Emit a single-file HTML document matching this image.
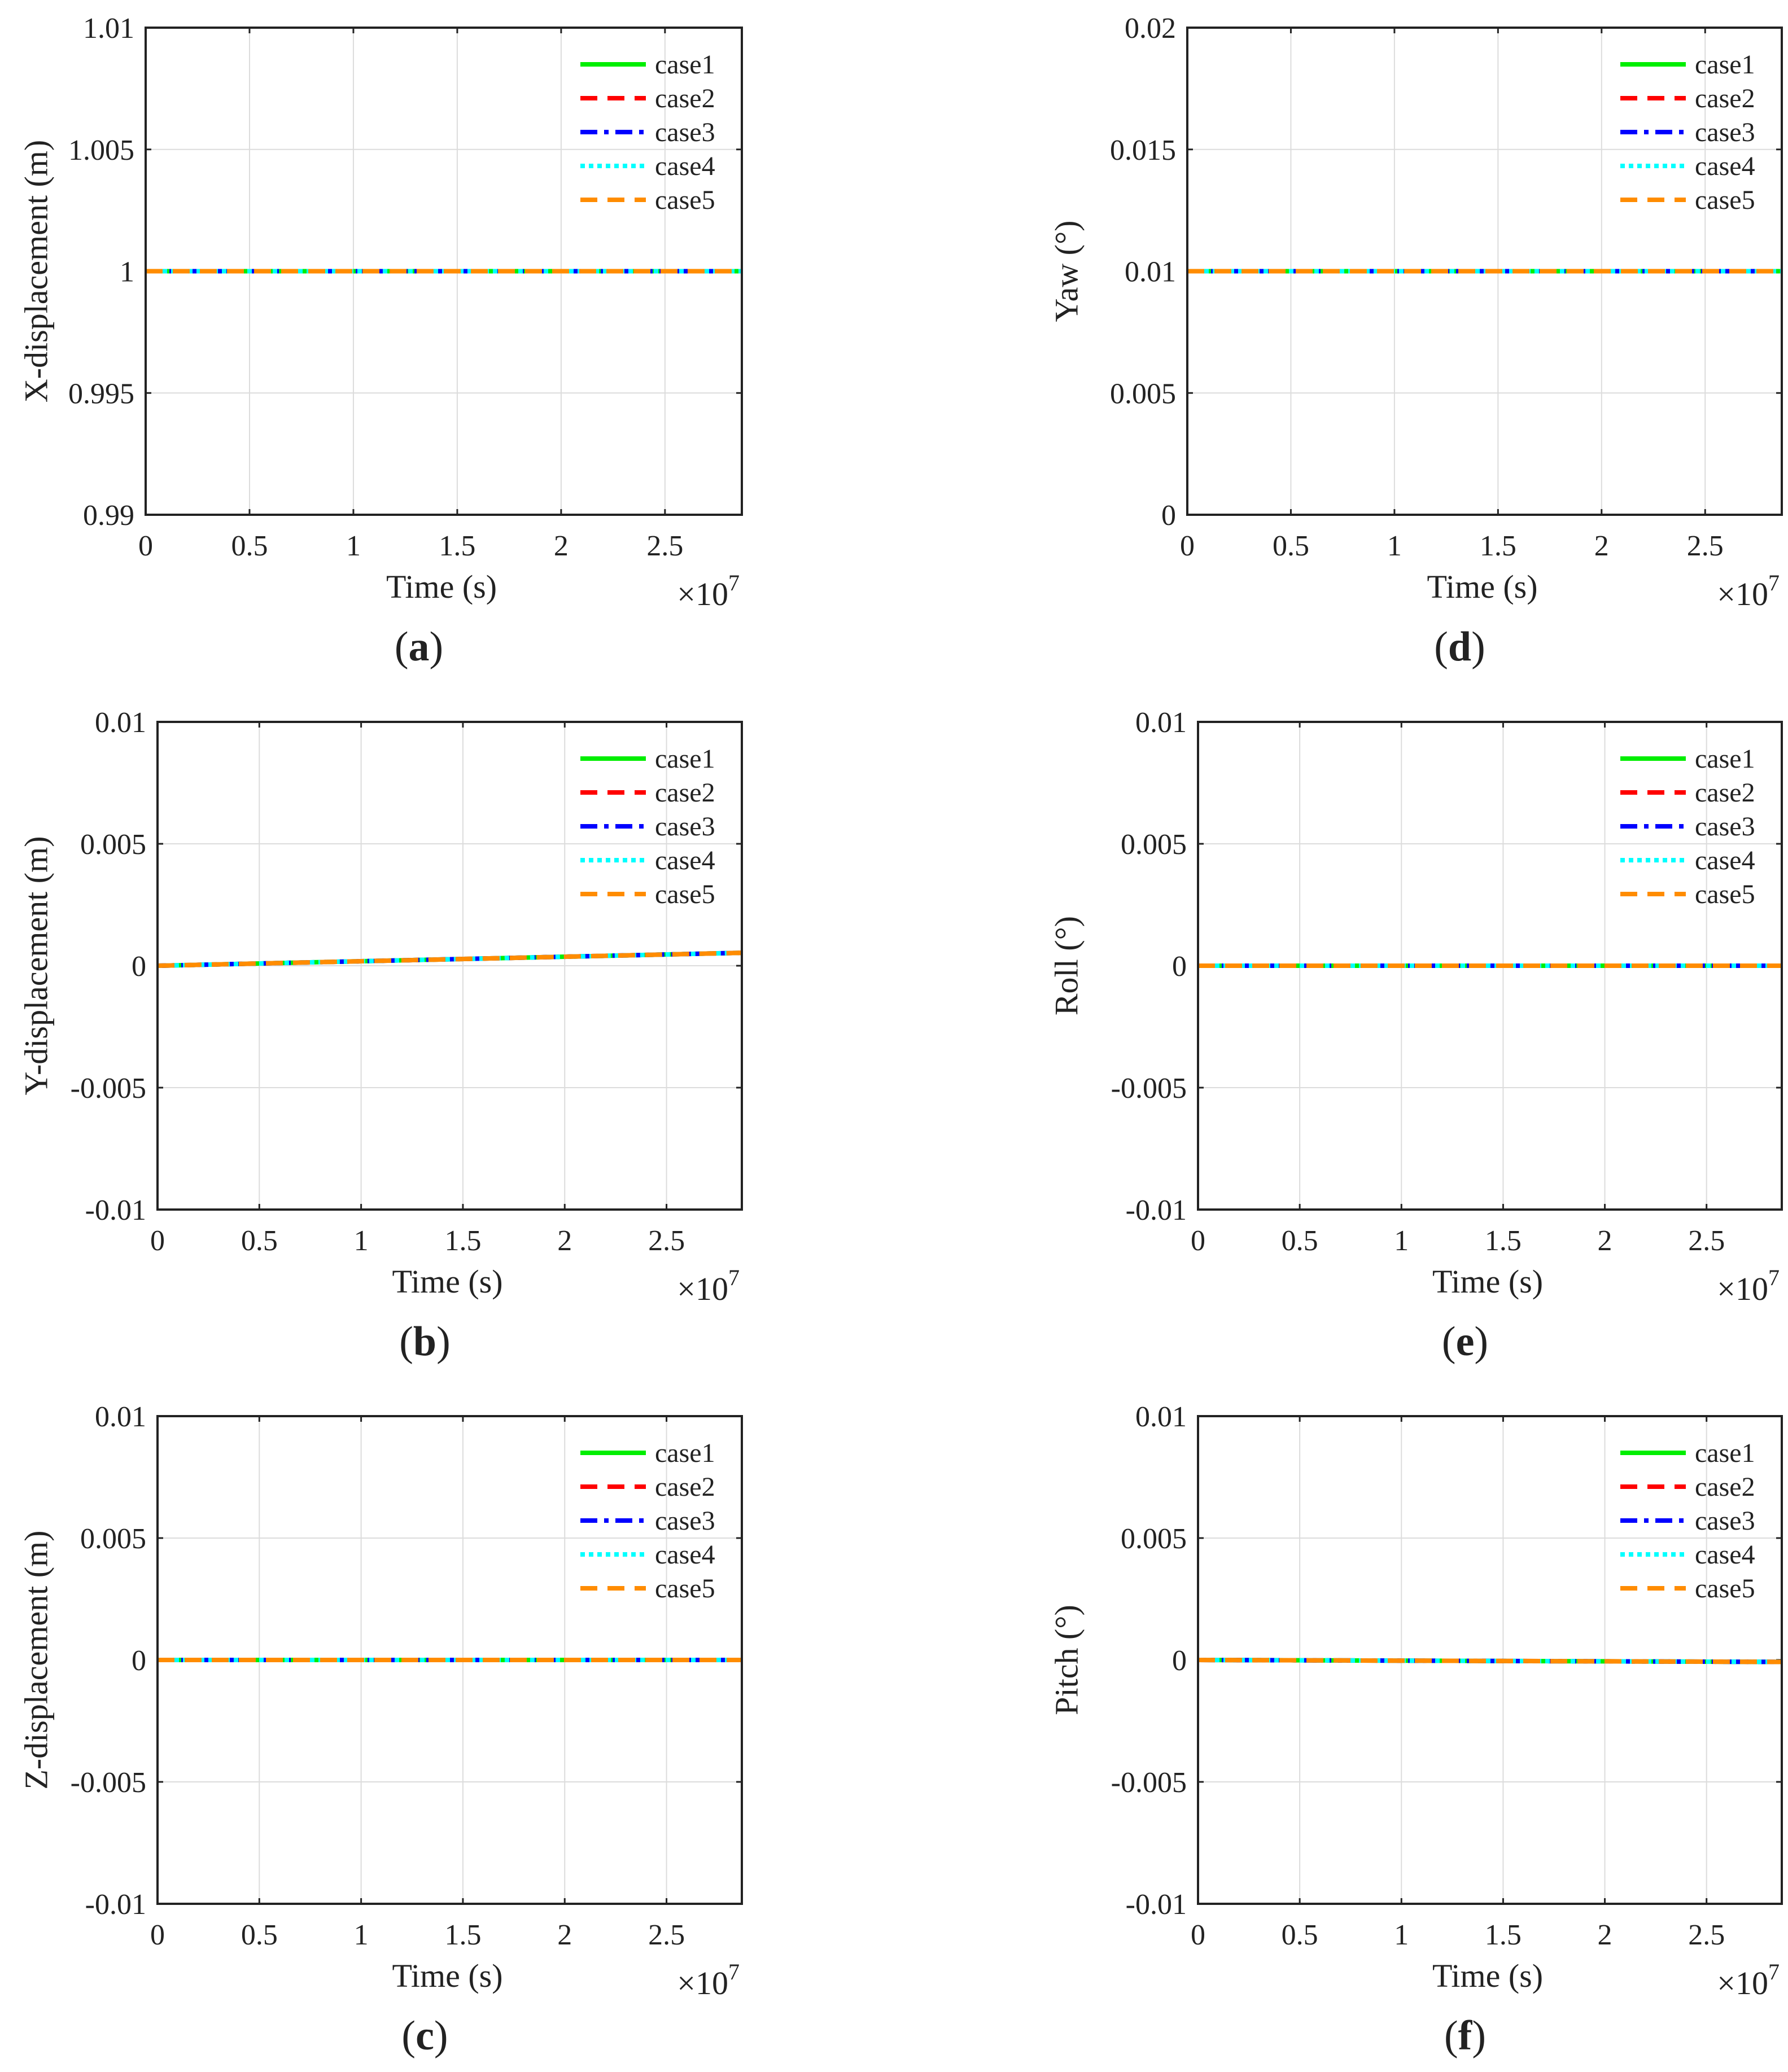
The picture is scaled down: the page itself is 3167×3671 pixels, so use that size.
<!DOCTYPE html>
<html><head><meta charset="utf-8"><style>
html,body{margin:0;padding:0;background:#fff;}
svg{display:block;}
text{font-family:"Liberation Serif",serif;fill:#222;}
</style></head><body>
<svg id="s" width="3167" height="3671" xmlns="http://www.w3.org/2000/svg" font-family="Liberation Serif, serif"></svg>
<script>
const S=document.getElementById('s');
let h='';
const plots=[
 {L:258,T:49,R:1314,B:912,ymin:0.99,ymax:1.01,yt:['0.99','0.995','1','1.005','1.01'],yl:'X-displacement (m)',lab:'a',v0:1,v1:1,lx:70},
 {L:279,T:1279,R:1314,B:2143,ymin:-0.01,ymax:0.01,yt:['-0.01','-0.005','0','0.005','0.01'],yl:'Y-displacement (m)',lab:'b',v0:0,v1:0.00053,lx:70},
 {L:279,T:2509,R:1314,B:3373,ymin:-0.01,ymax:0.01,yt:['-0.01','-0.005','0','0.005','0.01'],yl:'Z-displacement (m)',lab:'c',v0:0,v1:0,lx:70},
 {L:2103,T:49,R:3156,B:912,ymin:0,ymax:0.02,yt:['0','0.005','0.01','0.015','0.02'],yl:'Yaw (°)',lab:'d',v0:0.01,v1:0.01,lx:1895},
 {L:2122,T:1279,R:3156,B:2143,ymin:-0.01,ymax:0.01,yt:['-0.01','-0.005','0','0.005','0.01'],yl:'Roll (°)',lab:'e',v0:0,v1:0,lx:1895},
 {L:2122,T:2509,R:3156,B:3373,ymin:-0.01,ymax:0.01,yt:['-0.01','-0.005','0','0.005','0.01'],yl:'Pitch (°)',lab:'f',v0:0,v1:-0.00008,lx:1895}
];
const series=[
 ['#00ee00',''],['#ff0000','30 18'],['#0000ff','30 12 8 12'],['#00ffff','8 7'],['#ff8c00','30 18']
];
for(const p of plots){
 const W=p.R-p.L,H=p.B-p.T,xmax=2.87;
 const X=v=>p.L+v/xmax*W, Y=v=>p.B-(v-p.ymin)/(p.ymax-p.ymin)*H;
 for(let i=1;i<=5;i++){const x=X(i*0.5);h+=`<line x1="${x}" y1="${p.T}" x2="${x}" y2="${p.B}" stroke="#dcdcdc" stroke-width="2"/>`;}
 for(let i=1;i<4;i++){const y=p.B-i*H/4;h+=`<line x1="${p.L}" y1="${y}" x2="${p.R}" y2="${y}" stroke="#dcdcdc" stroke-width="2"/>`;}
 for(let i=0;i<=5;i++){const x=X(i*0.5);h+=`<line x1="${x}" y1="${p.B}" x2="${x}" y2="${p.B-10}" stroke="#222" stroke-width="3"/><line x1="${x}" y1="${p.T}" x2="${x}" y2="${p.T+10}" stroke="#222" stroke-width="3"/>`;
  h+=`<text x="${x}" y="${p.B+72}" font-size="52" text-anchor="middle">${i===0?'0':(i*0.5).toString()}</text>`;}
 for(let i=0;i<=4;i++){const y=p.B-i*H/4;h+=`<line x1="${p.L}" y1="${y}" x2="${p.L+10}" y2="${y}" stroke="#222" stroke-width="3"/><line x1="${p.R}" y1="${y}" x2="${p.R-10}" y2="${y}" stroke="#222" stroke-width="3"/>`;
  h+=`<text x="${p.L-20}" y="${y+18}" font-size="52" text-anchor="end">${p.yt[i]}</text>`;}
 for(const [c,d] of series){h+=`<line x1="${p.L}" y1="${Y(p.v0)}" x2="${p.R}" y2="${Y(p.v1)}" stroke="${c}" stroke-width="8" ${d?`stroke-dasharray="${d}"`:''}/>`;}
 h+=`<rect x="${p.L}" y="${p.T}" width="${W}" height="${H}" fill="none" stroke="#222" stroke-width="4"/>`;
 const names=['case1','case2','case3','case4','case5'];
 for(let i=0;i<5;i++){const y=p.T+65+i*60;const [c,d]=series[i];
  h+=`<line x1="${p.R-286}" y1="${y}" x2="${p.R-170}" y2="${y}" stroke="${c}" stroke-width="8" ${d?`stroke-dasharray="${d}"`:''}/>`;
  h+=`<text x="${p.R-154}" y="${y+16}" font-size="48">${names[i]}</text>`;}
 const cx=(p.L+p.R)/2;
 h+=`<text x="${cx-4}" y="${p.B+147}" font-size="58" text-anchor="middle">Time (s)</text>`;
 h+=`<text x="${p.R-4}" y="${p.B+160}" font-size="58" text-anchor="end">×10<tspan dy="-26" font-size="40">7</tspan></text>`;
 h+=`<text x="${cx-44}" y="${p.B+258}" font-size="74" text-anchor="middle">(<tspan font-weight="bold">${p.lab}</tspan>)</text>`;
 const cy=(p.T+p.B)/2;
 h+=`<text x="${p.lx}" y="${cy}" font-size="58" text-anchor="middle" dominant-baseline="middle" transform="rotate(-90 ${p.lx} ${cy})">${p.yl}</text>`;
}
S.innerHTML=h;
</script>
</body></html>
